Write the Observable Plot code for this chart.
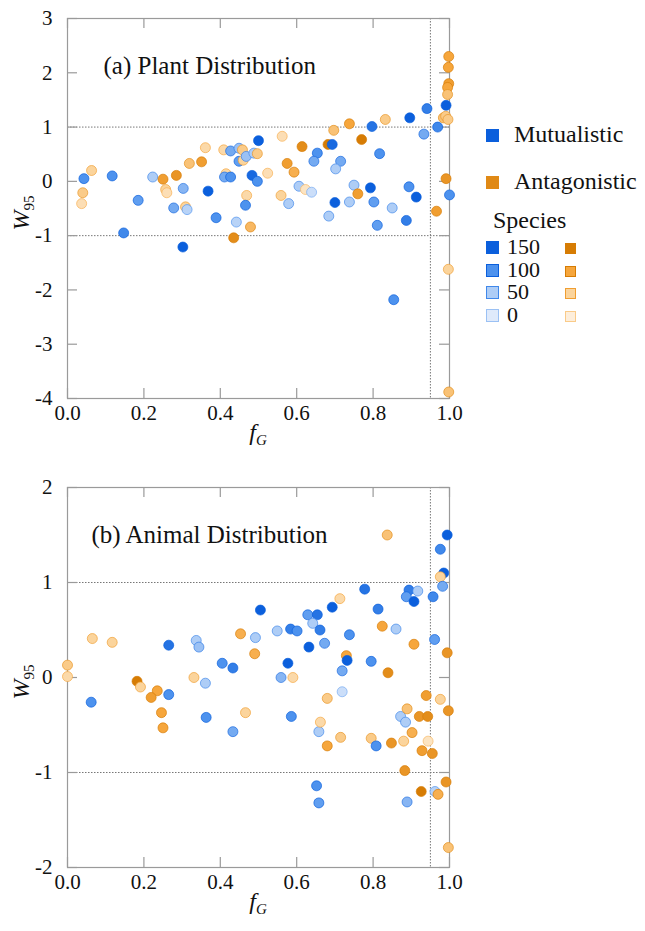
<!DOCTYPE html>
<html><head><meta charset="utf-8">
<script src="https://cdn.jsdelivr.net/npm/d3@7"></script>
<script src="https://cdn.jsdelivr.net/npm/@observablehq/plot@0.6"></script>
<style>
body{margin:0;background:#fff;font-family:"Liberation Serif","Times New Roman",serif;}
#chart{position:relative;width:645px;height:931px;background:#fff;}
.panel{position:absolute;left:0;}
#legend{position:absolute;left:486px;top:116px;font-size:24px;color:#111;line-height:1;}
.sw{display:inline-block;width:12px;height:12px;box-sizing:border-box;border:1px solid transparent;}
.row{position:absolute;white-space:nowrap;line-height:20px;height:20px;}
</style></head><body><div id="chart"></div>
<script>
// ---------- Data ----------
const xTicks = [0, 0.2, 0.4, 0.6, 0.8, 1.0];
const yTicksPlant = [-4, -3, -2, -1, 0, 1, 2, 3];
const yTicksAnimal = [-2, -1, 0, 1, 2];
const refLinesY = [1, -1];
const refLineX = [0.95];
const titlePlant = "(a) Plant Distribution";
const titleAnimal = "(b) Animal Distribution";
const groupNames = {M: "Mutualistic", A: "Antagonistic"};
const speciesLevels = [150, 100, 50, 0];

const plantX = [0.043,0.063,0.040,0.037,0.117,0.185,0.147,0.223,0.250,0.285,0.257,0.260,0.303,0.278,0.309,0.313,0.302,0.319,0.351,0.361,0.368,0.389,0.409,0.427,0.449,0.458,0.449,0.460,0.468,0.488,0.500,0.415,0.411,0.427,0.483,0.497,0.469,0.466,0.442,0.435,0.479,0.497,0.562,0.524,0.614,0.575,0.593,0.559,0.579,0.606,0.623,0.639,0.654,0.645,0.682,0.693,0.697,0.738,0.715,0.702,0.770,0.797,0.832,0.817,0.896,0.941,0.933,0.969,0.991,0.998,0.997,0.998,0.995,0.995,0.984,0.990,0.996,0.991,1.000,0.966,0.887,0.913,0.894,0.850,0.811,0.802,0.793,0.750,0.760,0.738,0.700,0.684,0.854,0.997,0.998];
const plantY = [0.05,0.20,-0.21,-0.41,0.10,-0.35,-0.95,0.08,0.04,0.11,-0.15,-0.21,-0.13,-0.49,-0.47,-0.52,-1.21,0.33,0.36,0.62,-0.18,-0.67,0.58,0.56,0.61,0.58,0.37,0.39,0.46,0.52,0.75,0.14,0.08,0.08,0.11,0.00,-0.26,-0.44,-0.75,-1.04,-0.84,0.51,0.83,0.15,0.64,0.33,0.17,-0.26,-0.41,-0.09,-0.15,-0.20,0.52,0.37,0.68,0.68,0.94,1.06,0.37,0.23,0.77,1.01,1.14,0.51,1.17,1.34,0.87,1.00,1.40,2.30,2.10,1.80,1.73,1.60,1.17,1.20,1.14,0.05,-0.25,-0.55,-0.72,-0.29,-0.10,-0.49,-0.81,-0.38,-0.12,-0.07,-0.23,-0.38,-0.39,-0.64,-2.18,-1.62,-3.88];
const plantGroup = ["M","A","A","A","M","M","M","M","A","A","A","A","M","M","A","M","M","A","A","A","M","M","A","M","M","A","M","A","M","M","M","A","M","M","M","M","A","M","M","A","A","A","A","A","A","A","A","A","M","M","A","M","M","M","A","M","A","A","M","M","A","M","A","M","M","M","M","M","M","A","A","A","A","A","A","A","A","A","M","A","M","M","M","M","M","M","M","M","A","M","M","M","M","A","A"];
const plantSpecies = [100,50,60,30,100,90,110,50,110,120,50,30,70,80,50,40,150,70,110,40,150,100,40,80,60,60,90,50,60,50,150,40,80,100,140,100,40,100,40,130,80,60,30,30,130,110,90,50,50,50,20,20,100,80,150,140,70,100,80,50,150,130,60,100,150,120,80,110,150,100,100,110,100,70,70,60,60,120,100,110,120,150,100,50,90,90,150,50,110,50,150,50,100,50,70];

const animalX = [0.065,0.117,0.000,0.000,0.265,0.337,0.344,0.331,0.361,0.405,0.433,0.453,0.490,0.492,0.505,0.182,0.191,0.235,0.219,0.265,0.062,0.246,0.250,0.363,0.433,0.466,0.586,0.658,0.662,0.680,0.719,0.680,0.715,0.795,0.808,0.848,0.880,0.872,0.885,0.889,0.902,0.928,0.921,0.943,0.939,0.944,0.955,0.976,0.997,0.883,0.991,0.926,0.962,0.970,0.889,0.652,0.658,0.997,0.837,0.994,0.976,0.985,0.976,0.982,0.957,0.894,0.917,0.887,0.907,0.778,0.713,0.693,0.813,0.629,0.654,0.642,0.661,0.584,0.601,0.549,0.632,0.673,0.738,0.824,0.860,0.907,0.961,0.994,0.730,0.732,0.719,0.795,0.839,0.577,0.559,0.590];
const animalY = [0.41,0.37,0.13,0.01,0.34,0.39,0.32,0.00,-0.06,0.15,0.10,0.46,0.25,0.42,0.71,-0.04,-0.10,-0.14,-0.21,-0.18,-0.26,-0.37,-0.53,-0.42,-0.57,-0.37,-0.41,-0.57,-0.47,-0.22,-0.15,-0.72,-0.63,-0.64,-0.72,-0.69,-0.67,-0.41,-0.47,-0.33,-0.58,-0.77,-0.41,-0.41,-0.19,-0.67,-0.80,-0.23,-0.35,-0.98,-1.10,-1.20,-1.20,-1.23,-1.31,-1.14,-1.32,-1.79,1.50,1.50,1.35,1.10,1.06,0.96,0.85,0.92,0.91,0.85,0.80,0.93,0.83,0.74,0.72,0.66,0.66,0.57,0.50,0.51,0.49,0.49,0.32,0.36,0.45,0.54,0.51,0.35,0.40,0.26,0.23,0.18,0.07,0.17,0.05,0.15,0.00,0.00];
const animalGroup = ["A","A","A","A","M","M","M","A","M","M","M","A","A","M","M","A","A","A","A","M","M","A","A","M","M","A","M","M","A","A","M","A","A","A","M","A","A","M","M","A","A","A","A","A","A","A","A","A","A","A","A","A","M","A","M","M","M","A","A","M","M","M","A","M","M","M","M","M","M","M","A","M","M","M","M","M","M","M","M","M","M","M","M","A","M","A","M","A","A","M","M","M","A","M","M","A"];
const animalSpecies = [50,50,60,40,130,50,60,50,50,100,120,90,90,50,150,150,50,100,110,100,100,100,100,100,80,50,100,50,40,60,20,100,60,60,100,120,50,50,50,70,90,110,120,130,110,20,120,50,120,120,120,150,40,90,70,100,90,70,70,150,110,150,50,80,110,120,50,90,150,130,40,150,120,90,130,50,120,120,100,50,150,80,100,100,50,100,90,120,100,150,80,100,130,150,70,40];

// ---------- Helpers ----------
const tone = (g, s) => g === "M" ? s : -s - 1;   // signed value for one shared colour scale
const colorScale = {
  type: "linear",
  domain: [-151, -101, -51, -1, 0, 50, 100, 150],
  range: ["#d67c04", "#f6a63c", "#fbd49c", "#fdeedb", "#dfeafb", "#aecdf6", "#4d92ee", "#0b5fdc"]
};
const rows = (X, Y, G, S) => X.map((x, i) => ({x, y: Y[i], g: G[i], s: S[i]}));

const W = 470, ML = 67, MR = 21, MT = 18, MB = 55;
const innerW = W - ML - MR, innerH = 380;
const FONT = "'Liberation Serif', 'Times New Roman', serif";

function panel(data, yDomain, yTicks, title, titleDx) {
  const frameGrey = "#9a9a9a";
  return Plot.plot({
    width: W, height: innerH + MT + MB,
    marginLeft: ML, marginRight: MR, marginTop: MT, marginBottom: MB,
    x: {domain: [0, 1], label: null},
    y: {domain: yDomain, label: null},
    color: colorScale,
    style: {fontFamily: FONT, fontSize: "21px", background: "white", color: "#111"},
    marks: [
      Plot.ruleY(refLinesY, {y: d => d, stroke: "#777", strokeWidth: 1, strokeDasharray: "1.5,1.5"}),
      Plot.ruleX(refLineX, {x: d => d, stroke: "#777", strokeWidth: 1, strokeDasharray: "1.5,1.5"}),
      Plot.frame({stroke: frameGrey, strokeWidth: 1.2}),
      Plot.tickX(xTicks, {x: d => d, insetTop: innerH - 10, stroke: frameGrey, strokeWidth: 1.2}),
      Plot.tickX(xTicks, {x: d => d, insetBottom: innerH - 10, stroke: frameGrey, strokeWidth: 1.2}),
      Plot.tickY(yTicks, {y: d => d, insetRight: innerW - 10, stroke: frameGrey, strokeWidth: 1.2}),
      Plot.tickY(yTicks, {y: d => d, insetLeft: innerW - 10, stroke: frameGrey, strokeWidth: 1.2}),
      Plot.axisX({ticks: xTicks, tickSize: 0, tickPadding: 7, tickFormat: d => d.toFixed(1), label: null, fontSize: 21}),
      Plot.axisY({ticks: yTicks, tickSize: 0, tickPadding: 15, tickFormat: d => String(d), label: null, fontSize: 21}),
      Plot.dot(data, {
        x: "x", y: "y", r: 5,
        fill: d => tone(d.g, d.s),
        stroke: d => tone(d.g, Math.min(150, d.s + 60)),
        strokeWidth: 0.9, strokeOpacity: 0.75
      }),
      Plot.text([title], {text: d => d, frameAnchor: "top-left", textAnchor: "start", lineAnchor: "top", dx: titleDx, dy: 38, fontSize: 25, fill: "#111"})
    ]
  });
}

function addAxisLabels(plot) {
  const svg = d3.select(plot);
  const cy = MT + innerH / 2 + 5;
  const wl = svg.append("text")
    .attr("transform", `translate(29, ${cy}) rotate(-90)`)
    .attr("text-anchor", "middle")
    .attr("font-family", FONT)
    .attr("font-size", 24).attr("fill", "#111");
  wl.append("tspan").attr("font-style", "italic").text("W");
  wl.append("tspan").attr("font-size", 15).attr("dy", 5).text("95");
  const fl = svg.append("text")
    .attr("x", ML + innerW / 2).attr("y", MT + innerH + 42)
    .attr("text-anchor", "middle")
    .attr("font-family", FONT)
    .attr("font-size", 24).attr("fill", "#111");
  fl.append("tspan").attr("font-style", "italic").text("f");
  fl.append("tspan").attr("font-style", "italic").attr("font-size", 15).attr("dy", 5).text("G");
}

const chart = document.getElementById("chart");

const plotA = panel(rows(plantX, plantY, plantGroup, plantSpecies), [-4, 3], yTicksPlant, titlePlant, 36);
addAxisLabels(plotA);
plotA.classList.add("panel"); plotA.style.top = "0px";
chart.appendChild(plotA);

const plotB = panel(rows(animalX, animalY, animalGroup, animalSpecies), [-2, 2], yTicksAnimal, titleAnimal, 24);
addAxisLabels(plotB);
plotB.classList.add("panel"); plotB.style.top = "469px";
chart.appendChild(plotB);

// ---------- Legend ----------
const cs = plotA.scale("color");
const legend = document.createElement("div");
legend.id = "legend";
const addRow = (top, html, fs) => { const r = document.createElement("div"); r.className = "row"; r.style.top = top + "px"; r.style.fontSize = fs + "px"; r.innerHTML = html; legend.appendChild(r); };
const sw = (g, s, size) => `<span class="sw" style="width:${size}px;height:${size}px;background:${cs.apply(tone(g, s))};border-color:${s < 120 ? cs.apply(tone(g, Math.min(150, s + 60))) : "transparent"}"></span>`;
addRow(8, `${sw("M", 150, 13)}<span style="margin-left:15px">${groupNames.M}</span>`, 24);
addRow(55, `${sw("A", 135, 13)}<span style="margin-left:15px">${groupNames.A}</span>`, 24);
addRow(94, `<span style="margin-left:7px">Species</span>`, 24);
speciesLevels.forEach((s, i) => {
  addRow(121 + i * 22.7, `${sw("M", s, 13)}<span style="display:inline-block;width:58px;margin-left:8px">${s}</span>${sw("A", s, 11)}`, 22);
});
chart.appendChild(legend);
</script></body></html>
